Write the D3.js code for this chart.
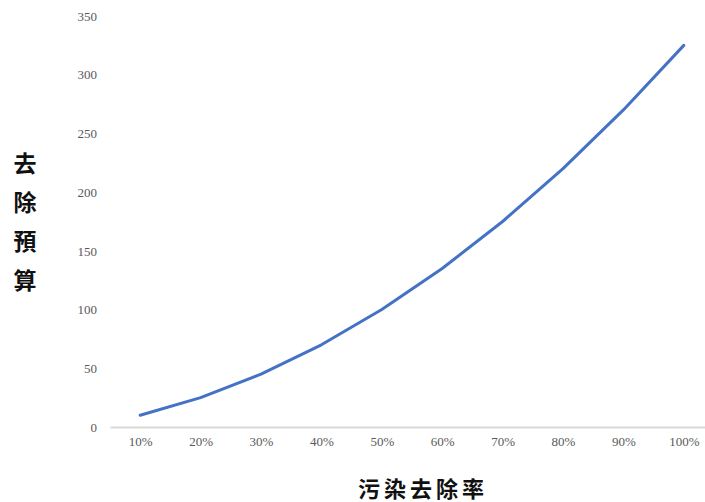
<!DOCTYPE html>
<html>
<head>
<meta charset="utf-8">
<script src="https://cdn.jsdelivr.net/npm/d3@7/dist/d3.min.js"></script>
<style>
  html, body { margin: 0; padding: 0; background: #fff; }
  svg { display: block; }
</style>
</head>
<body>
<svg id="chart" width="705" height="502"></svg>
<script>
// Removal rate categories and the budget needed for each
const rates = ["10%", "20%", "30%", "40%", "50%", "60%", "70%", "80%", "90%", "100%"];
const budget = [10, 25, 45, 70, 100, 135, 175, 220, 270, 325];
const yTicks = [0, 50, 100, 150, 200, 250, 300, 350];
const yTitle = ["去", "除", "預", "算"];
const xTitle = "污染去除率";

const svg = d3.select("#chart");
const plotLeft = 110, plotRight = 714, plotTop = 16, plotBottom = 427;

const x = d3.scalePoint().domain(rates).range([plotLeft, plotRight]).padding(0.5);
const y = d3.scaleLinear().domain([0, 350]).range([plotBottom, plotTop]);

const serif = "'Liberation Serif', 'Times New Roman', serif";
const cjk = "'Noto Sans CJK TC', 'Noto Sans CJK SC', sans-serif";

// Y tick labels (no axis line or gridlines)
const yAxis = svg.append("g")
  .attr("transform", `translate(${plotLeft},0)`)
  .call(d3.axisLeft(y).tickValues(yTicks).tickSize(0).tickPadding(13));
yAxis.select(".domain").remove();
yAxis.selectAll("text")
  .attr("font-family", serif).attr("font-size", 13).attr("fill", "#595959");

// X axis: light grey baseline and category labels
const xAxis = svg.append("g")
  .attr("transform", `translate(0,${plotBottom})`)
  .call(d3.axisBottom(x).tickSize(0).tickPadding(10));
xAxis.select(".domain").attr("stroke", "#d9d9d9").attr("stroke-width", 2);
xAxis.selectAll("text")
  .attr("font-family", serif).attr("font-size", 13).attr("fill", "#595959");

// Budget curve
const line = d3.line()
  .x((d, i) => x(rates[i]))
  .y(d => y(d));
svg.append("path")
  .datum(budget)
  .attr("d", line)
  .attr("fill", "none")
  .attr("stroke", "#4472C4")
  .attr("stroke-width", 3)
  .attr("stroke-linecap", "round")
  .attr("stroke-linejoin", "round");

// Vertical y-axis title, one character per line
svg.append("g").selectAll("text")
  .data(yTitle)
  .join("text")
  .attr("x", 25)
  .attr("y", (d, i) => 172 + i * 39)
  .attr("text-anchor", "middle")
  .attr("font-family", cjk)
  .attr("font-weight", 600)
  .attr("font-size", 23)
  .attr("fill", "#111")
  .text(d => d);

// X-axis title
svg.append("text")
  .attr("x", 423)
  .attr("y", 497)
  .attr("text-anchor", "middle")
  .attr("font-family", cjk)
  .attr("font-weight", 600)
  .attr("font-size", 22)
  .attr("letter-spacing", 4)
  .attr("fill", "#111")
  .text(xTitle);
</script>
</body>
</html>
